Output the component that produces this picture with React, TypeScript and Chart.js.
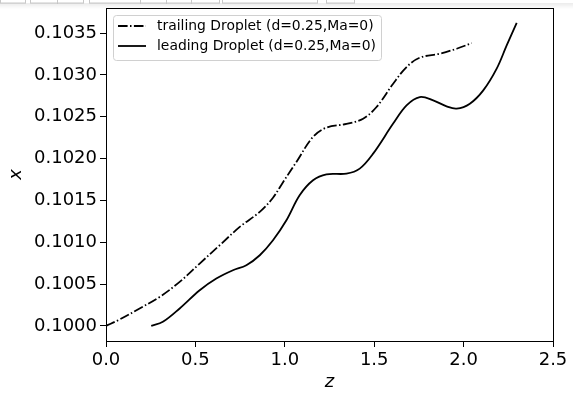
import React, { useEffect, useRef } from "react";
import { Chart, registerables } from "chart.js";

Chart.register(...registerables);

const TRAIL_Z = [0, 0.076, 0.188, 0.3, 0.412, 0.524, 0.636, 0.748, 0.86, 0.934, 0.985, 1.065, 1.158, 1.233, 1.345, 1.438, 1.513, 1.606, 1.681, 1.755, 1.867, 1.961, 2.045];
const TRAIL_X = [0.1, 0.100076, 0.100208, 0.100346, 0.100526, 0.100745, 0.100964, 0.101183, 0.101363, 0.101532, 0.1017, 0.10196, 0.10226, 0.10237, 0.102414, 0.102477, 0.102616, 0.102895, 0.103094, 0.103206, 0.103254, 0.103313, 0.10338];

const LEAD_Z = [0.253, 0.318, 0.412, 0.524, 0.617, 0.71, 0.785, 0.86, 0.934, 1.009, 1.083, 1.158, 1.233, 1.345, 1.419, 1.494, 1.606, 1.681, 1.755, 1.83, 1.905, 1.961, 2.035, 2.11, 2.185, 2.241, 2.297];
const LEAD_X = [0.1, 0.100048, 0.100208, 0.100426, 0.100566, 0.100665, 0.100725, 0.100844, 0.101023, 0.101262, 0.101561, 0.10174, 0.101812, 0.10182, 0.10188, 0.102059, 0.102418, 0.102636, 0.102735, 0.102696, 0.102624, 0.102597, 0.102656, 0.102815, 0.103075, 0.103353, 0.103622];

const X_TICKS = [0, 0.5, 1.0, 1.5, 2.0, 2.5];
const Y_TICKS = [0.1, 0.1005, 0.101, 0.1015, 0.102, 0.1025, 0.103, 0.1035];

const SERIES_NAMES = ["trailing Droplet (d=0.25,Ma=0)", "leading Droplet (d=0.25,Ma=0)"];
const DASHDOT = [9.6, 2.4, 1.5, 2.4];

const FONT = "'DejaVu Sans', sans-serif";

const framePlugin = {
  id: "frame",
  beforeDraw(chart: any) {
    const ctx = chart.ctx;
    ctx.save();
    const boxes = [[0, 25], [30, 57], [57, 83], [89, 140], [140, 166], [166, 191], [191, 219], [222, 317], [326, 354]];
    ctx.strokeStyle = "#c8c8c8";
    ctx.lineWidth = 1;
    boxes.forEach(([a, b]) => {
      ctx.strokeRect(a + 0.5, -2, b - a, 5);
    });
    const g = ctx.createLinearGradient(0, 3, 0, 9);
    g.addColorStop(0, "rgba(0,0,0,0.08)");
    g.addColorStop(1, "rgba(0,0,0,0)");
    ctx.fillStyle = g;
    ctx.fillRect(0, 3, 573, 6);
    ctx.restore();
  },
  afterDraw(chart: any) {
    const { ctx, chartArea } = chart;
    ctx.save();
    ctx.strokeStyle = "#000";
    ctx.lineWidth = 1;
    ctx.strokeRect(
      Math.round(chartArea.left) + 0.5,
      Math.round(chartArea.top) + 0.5,
      Math.round(chartArea.right - chartArea.left),
      Math.round(chartArea.bottom - chartArea.top)
    );
    const lx = chartArea.left + 7;
    const ly = chartArea.top + 7;
    const w = 268;
    const h = 45;
    ctx.fillStyle = "rgba(255,255,255,0.8)";
    ctx.strokeStyle = "#d0d0d0";
    ctx.lineWidth = 1;
    ctx.beginPath();
    (ctx as any).roundRect(lx + 0.5, ly + 0.5, w, h, 3);
    ctx.fill();
    ctx.stroke();
    ctx.font = `13.9px ${FONT}`;
    ctx.fillStyle = "#000";
    ctx.textBaseline = "middle";
    const rows = [ly + 11, ly + 31];
    chart.data.datasets.forEach((ds: any, i: number) => {
      const y = rows[i];
      ctx.strokeStyle = "#000";
      ctx.lineWidth = 1.8;
      ctx.setLineDash(ds.borderDash || []);
      ctx.beginPath();
      ctx.moveTo(lx + 5, y);
      ctx.lineTo(lx + 33, y);
      ctx.stroke();
      ctx.setLineDash([]);
      ctx.fillText(ds.label, lx + 44, y);
    });
    ctx.restore();
  },
};

export default function App() {
  const ref = useRef<HTMLCanvasElement | null>(null);
  useEffect(() => {
    if (!ref.current) return;
    const trail = TRAIL_Z.map((z, i) => ({ x: z, y: TRAIL_X[i] }));
    const lead = LEAD_Z.map((z, i) => ({ x: z, y: LEAD_X[i] }));
    const chart = new Chart(ref.current, {
      type: "scatter",
      data: {
        datasets: [
          {
            label: SERIES_NAMES[0],
            data: trail,
            showLine: true,
            borderColor: "#000",
            borderWidth: 1.8,
            borderDash: DASHDOT,
            pointRadius: 0,
            tension: 0.35,
          },
          {
            label: SERIES_NAMES[1],
            data: lead,
            showLine: true,
            borderColor: "#000",
            borderWidth: 1.8,
            pointRadius: 0,
            tension: 0.35,
          },
        ],
      },
      options: {
        animation: false,
        responsive: true,
        maintainAspectRatio: false,
        layout: { padding: { left: 0, top: 8, right: 20, bottom: 0 } },
        plugins: { legend: { display: false }, tooltip: { enabled: false } },
        scales: {
          x: {
            type: "linear",
            min: 0,
            max: 2.5,
            afterBuildTicks: (s: any) => {
              s.ticks = X_TICKS.map((v) => ({ value: v }));
            },
            afterFit: (s: any) => {
              s.height = 56;
              s.paddingLeft = 0;
              s.paddingRight = 0;
            },
            ticks: {
              color: "#000",
              font: { family: FONT, size: 18 },
              padding: 3,
              maxRotation: 0,
              callback: (v: any) => Number(v).toFixed(1),
            },
            grid: { drawOnChartArea: false, drawTicks: true, tickLength: 6, color: "#000" },
            border: { display: true, color: "#000" },
            title: {
              display: true,
              text: "z",
              color: "#000",
              font: { family: FONT, size: 18, style: "italic" },
              padding: { top: 0, bottom: 4 },
            },
          },
          y: {
            type: "linear",
            min: 0.099819,
            max: 0.1038,
            afterBuildTicks: (s: any) => {
              s.ticks = Y_TICKS.map((v) => ({ value: v }));
            },
            afterFit: (s: any) => {
              s.width = 106;
              s.paddingTop = 0;
              s.paddingBottom = 0;
            },
            ticks: {
              color: "#000",
              font: { family: FONT, size: 18 },
              padding: 3,
              callback: (v: any) => Number(v).toFixed(4),
            },
            grid: { drawOnChartArea: false, drawTicks: true, tickLength: 6, color: "#000" },
            border: { display: true, color: "#000" },
            title: {
              display: true,
              text: "x",
              color: "#000",
              font: { family: FONT, size: 18, style: "italic" },
              padding: { top: 6, bottom: 0 },
            },
          },
        },
      },
      plugins: [framePlugin],
    });
    return () => chart.destroy();
  }, []);
  return (
    <div style={{ position: "absolute", left: 0, top: 0, width: 573, height: 397, background: "#fff" }}>
      <canvas ref={ref} />
    </div>
  );
}
